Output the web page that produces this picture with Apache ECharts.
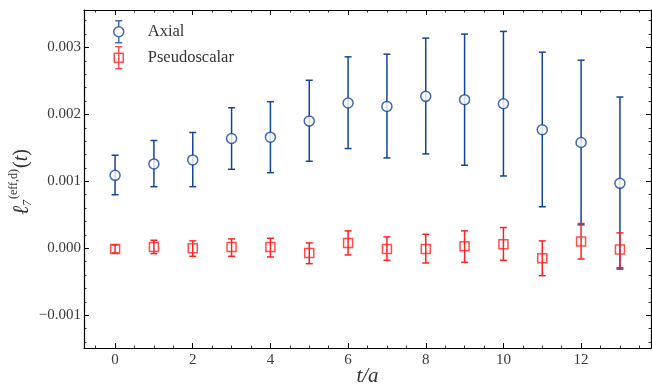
<!DOCTYPE html>
<html>
<head>
<meta charset="utf-8">
<script src="https://cdn.jsdelivr.net/npm/echarts@6/dist/echarts.min.js"></script>
<style>html,body{margin:0;padding:0;background:#fff;}#c{width:652px;height:387px;}</style>
</head>
<body>
<div id="c"></div>
<script>
const tVals = [0,1,2,3,4,5,6,7,8,9,10,11,12,13];
const axialVal = [0.00109,0.00126,0.00132,0.00164,0.00166,0.00190,0.00217,0.00212,0.00227,0.00222,0.00216,0.00177,0.00158,0.00097];
const axialHi  = [0.00139,0.00161,0.00173,0.00210,0.00219,0.00251,0.00286,0.00290,0.00314,0.00320,0.00324,0.00293,0.00281,0.00226];
const axialLo  = [0.00080,0.00092,0.00092,0.00118,0.00113,0.00130,0.00149,0.00135,0.00141,0.00124,0.00108,0.00062,0.00035,-0.00031];
const pseudoVal = [-0.00001,0.00002,0.00000,0.00002,0.00002,-0.00007,0.00008,-0.00001,-0.00001,0.00003,0.00006,-0.00015,0.00010,-0.00002];
const pseudoHi  = [0.00005,0.00012,0.00011,0.00014,0.00015,0.00008,0.00026,0.00017,0.00021,0.00026,0.00031,0.00011,0.00037,0.00023];
const pseudoLo  = [-0.00007,-0.00008,-0.00012,-0.00012,-0.00013,-0.00023,-0.00010,-0.00018,-0.00022,-0.00021,-0.00018,-0.00041,-0.00016,-0.00029];
const xRange = [-0.8, 13.8];
const yRange = [-0.00149, 0.00356];

const BLUE = '#14449a';
const RED = '#ff2222';
const FONT = '"Liberation Serif", "DejaVu Serif", serif';

function errSeries(name, lo, hi, color) {
  return {
    type: 'custom', name: name, z: 3,
    data: tVals.map((t, i) => [t, lo[i], hi[i]]),
    encode: { x: 0, y: [1, 2] },
    renderItem: function (params, api) {
      const x = api.value(0);
      const a = api.coord([x, api.value(2)]);
      const b = api.coord([x, api.value(1)]);
      const w = 3.5;
      const st = { stroke: color, lineWidth: 1.5 };
      return { type: 'group', children: [
        { type: 'line', shape: { x1: a[0], y1: a[1], x2: b[0], y2: b[1] }, style: st },
        { type: 'line', shape: { x1: a[0] - w, y1: a[1], x2: a[0] + w, y2: a[1] }, style: st },
        { type: 'line', shape: { x1: b[0] - w, y1: b[1], x2: b[0] + w, y2: b[1] }, style: st }
      ]};
    }
  };
}

function yFmt(v) {
  return (Math.abs(v) < 1e-12 ? '0.000' : v.toFixed(3)).replace('-', '\u2212');
}

const axisCommon = {
  type: 'value',
  axisLine: { show: true, onZero: false, lineStyle: { color: '#000', width: 1.2 } },
  axisTick: { show: true, inside: true, length: 5, lineStyle: { color: '#000', width: 1 } },
  minorTick: { show: true, length: 2.5, lineStyle: { color: '#000', width: 0.8 } },
  splitLine: { show: false }
};

const chart = echarts.init(document.getElementById('c'), null, { renderer: 'canvas' });
chart.setOption({
  animation: false,
  backgroundColor: '#fff',
  grid: { left: 84, right: 1, top: 10, bottom: 39, containLabel: false, outerBoundsMode: 'none' },
  xAxis: [
    Object.assign({}, axisCommon, {
      position: 'bottom', min: xRange[0], max: xRange[1], splitNumber: 7,
      minorTick: Object.assign({}, axisCommon.minorTick, { splitNumber: 4 }),
      axisLabel: { show: true, showMinLabel: false, showMaxLabel: false, margin: 5, color: '#3a3a3a', fontFamily: FONT, fontSize: 15 },
      name: 't/a', nameLocation: 'middle', nameGap: 18, nameMoveOverlap: false,
      nameTextStyle: { fontFamily: FONT, fontStyle: 'italic', fontSize: 21, color: '#333', verticalAlign: 'top' }
    }),
    Object.assign({}, axisCommon, {
      position: 'top', min: xRange[0], max: xRange[1], splitNumber: 7,
      minorTick: Object.assign({}, axisCommon.minorTick, { splitNumber: 4 }),
      axisLabel: { show: false }
    })
  ],
  yAxis: [
    Object.assign({}, axisCommon, {
      position: 'left', min: yRange[0], max: yRange[1], splitNumber: 5,
      minorTick: Object.assign({}, axisCommon.minorTick, { splitNumber: 5 }),
      axisLabel: { show: true, showMinLabel: false, showMaxLabel: false, margin: 3, formatter: yFmt, color: '#3a3a3a', fontFamily: FONT, fontSize: 15 }
    }),
    Object.assign({}, axisCommon, {
      position: 'right', min: yRange[0], max: yRange[1], splitNumber: 5,
      minorTick: Object.assign({}, axisCommon.minorTick, { splitNumber: 5 }),
      axisLabel: { show: false }
    })
  ],
  legend: {
    orient: 'vertical', left: 108, top: 15, itemWidth: 10, itemHeight: 22, itemGap: 2.5,
    textStyle: { fontFamily: FONT, fontSize: 16.5, color: '#333', padding: [0, 0, 0, 19] },
    data: [
      { name: 'Axial', icon: 'path://M5,0 L5,6 M1.5,0 L8.5,0 M0,11 A5,5 0 1 1 10,11 A5,5 0 1 1 0,11 Z M5,16 L5,22 M1.5,22 L8.5,22',
        itemStyle: { color: 'rgba(0,0,0,0)', borderColor: BLUE, borderWidth: 1.5 } },
      { name: 'Pseudoscalar', icon: 'path://M5,0 L5,22 M1.5,0 L8.5,0 M0.5,6.5 L9.5,6.5 L9.5,15.5 L0.5,15.5 Z M1.5,22 L8.5,22',
        itemStyle: { color: 'rgba(0,0,0,0)', borderColor: RED, borderWidth: 1.5 } }
    ]
  },
  graphic: [{
    type: 'group', x: 22, y: 180, rotation: Math.PI / 2,
    children: [
      { type: 'text', style: { x: -35, y: 0, text: '\u2113', font: 'italic 22px ' + FONT, fill: '#333', align: 'left', verticalAlign: 'middle' } },
      { type: 'text', style: { x: -26, y: 6, text: '7', font: 'italic 12px ' + FONT, fill: '#333', align: 'left', verticalAlign: 'middle' } },
      { type: 'text', style: { x: -19, y: -8, text: '(eff,d)', font: '12px ' + FONT, fill: '#333', align: 'left', verticalAlign: 'middle' } },
      { type: 'text', style: { x: 12, y: 0, text: '{p|(}{i|t}{p|)}', fill: '#333', align: 'left', verticalAlign: 'middle',
        rich: { p: { fontFamily: FONT, fontSize: 20, fill: '#333' }, i: { fontFamily: FONT, fontSize: 20, fontStyle: 'italic', fill: '#333' } } } }
    ]
  }],
  series: [
    errSeries('Axial err', axialLo, axialHi, BLUE),
    {
      type: 'scatter', name: 'Axial', z: 4, symbol: 'circle', symbolSize: 10,
      data: tVals.map((t, i) => [t, axialVal[i]]),
      itemStyle: { color: '#fff', borderColor: BLUE, borderWidth: 1.5 }
    },
    errSeries('Pseudoscalar err', pseudoLo, pseudoHi, RED),
    {
      type: 'scatter', name: 'Pseudoscalar', z: 5, symbol: 'rect', symbolSize: 9,
      data: tVals.map((t, i) => [t, pseudoVal[i]]),
      itemStyle: { color: 'rgba(0,0,0,0)', borderColor: RED, borderWidth: 1.5 }
    }
  ]
});
</script>
</body>
</html>
